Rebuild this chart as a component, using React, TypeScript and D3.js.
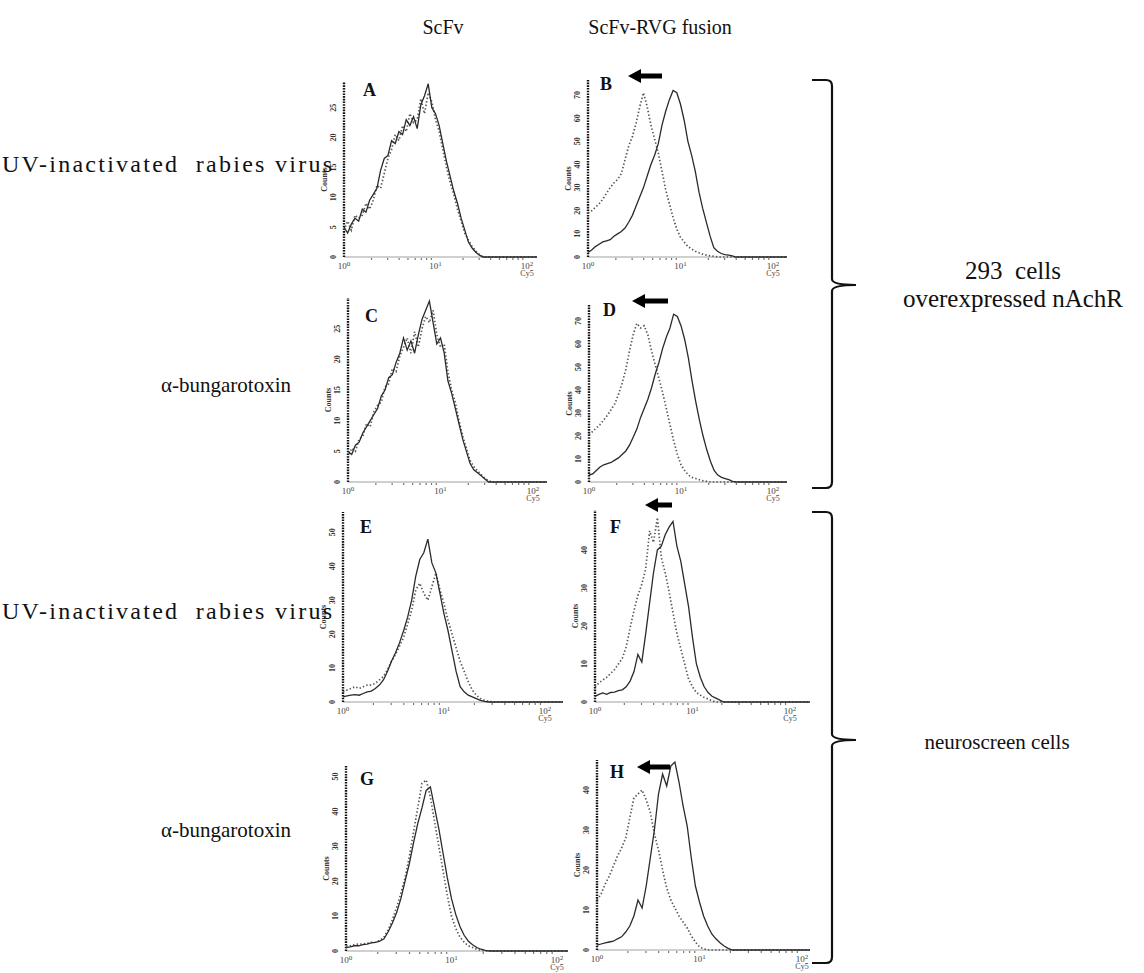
import React, { useRef, useEffect } from "react";
import * as d3 from "d3";

// log10 of the Cy5 channel, shared by every histogram
const LOG_X = [0, 0.04, 0.08, 0.12, 0.16, 0.2, 0.24, 0.28, 0.32, 0.36, 0.4, 0.44, 0.48, 0.52, 0.56, 0.6, 0.64, 0.68, 0.72, 0.76, 0.8, 0.84, 0.88, 0.92, 0.96, 1.0, 1.04, 1.08, 1.12, 1.16, 1.2, 1.24, 1.28, 1.32, 1.36, 1.4, 1.44, 1.48, 1.52, 1.56, 1.6];

const A_SOLID = [5, 4, 5.5, 6.5, 6, 8, 7.5, 9.5, 10.5, 11.5, 14.5, 16.5, 17, 19.5, 19, 21, 20.5, 23, 22, 23.5, 21.5, 25.5, 27, 29, 25, 24, 22, 19, 16, 13.5, 11, 9, 6.5, 4.5, 2.5, 1.5, 0.8, 0.3, 0, 0, 0];
const A_DOTTED = [4.5, 6, 4.5, 7, 6.5, 7, 9, 8, 9.5, 12, 11.5, 14, 16.5, 18, 20.5, 19.5, 22, 21, 24, 22.5, 23, 26.5, 24, 27.5, 26, 23, 21, 18, 15, 12.5, 10.5, 8, 6, 4, 2.8, 1.8, 1, 0.4, 0, 0, 0];
const B_SOLID = [2, 3, 4.5, 5.5, 6.5, 7, 7.5, 9, 10, 11, 12.5, 15, 18, 22, 26, 30, 35, 40, 44, 49, 57, 63, 68, 72, 71, 66, 59, 50, 44, 37, 28, 21, 15, 9, 4, 2.5, 1.5, 1, 0.8, 0.5, 0];
const B_DOTTED = [19, 20, 21.5, 23, 25, 27.5, 30, 32, 33.5, 36, 42, 48, 52, 58, 65, 71, 65, 57, 51, 45, 37, 29, 23, 17, 12, 8.5, 6.5, 4.5, 3.5, 2.5, 1.8, 1.2, 0.8, 0.5, 0.3, 0, 0, 0, 0, 0, 0];
const C_SOLID = [5, 4.5, 6, 6.5, 8, 9, 10, 11, 12, 14, 15, 17, 17.5, 19.5, 21, 23.5, 21.5, 23, 21, 24, 26.5, 28, 29.5, 26, 22.5, 23.5, 21, 16.5, 14.5, 12, 9.5, 7, 5, 3, 2, 1.5, 1, 0.5, 0, 0, 0];
const C_DOTTED = [4, 5.5, 5, 7, 7.5, 9.5, 9, 11.5, 12.5, 13, 15.5, 16, 18.5, 18, 20.5, 22, 23.5, 21, 24.5, 22, 25, 27, 26, 28, 24, 22, 22.5, 18, 15, 13, 10, 7.5, 5.5, 3.5, 2.5, 1.8, 1.2, 0.6, 0.2, 0, 0];
const D_SOLID = [3, 3.5, 5, 6.5, 7.5, 8, 8.5, 9.5, 10.5, 12, 13.5, 16, 19.5, 23, 28, 32, 36, 41, 47, 52, 58, 63, 67, 73, 72, 68, 62, 54, 44, 35, 27, 20, 14, 9, 5, 3, 2, 1.5, 1, 0.3, 0];
const D_DOTTED = [20.5, 22, 23.5, 25, 27, 29, 31.5, 34, 38, 43, 49, 57, 64, 69, 67, 68, 64, 57, 51, 45, 39, 32, 25, 18, 12, 7.5, 5, 3, 2, 1.5, 1, 0.5, 0.3, 0, 0, 0, 0, 0, 0, 0, 0];
const E_SOLID = [1.5, 1.8, 2, 2.2, 2, 2.5, 3, 3.2, 4, 5, 6.5, 9, 12, 14.5, 17.5, 21, 25, 30, 37, 42, 44, 48, 41, 38, 32, 26, 21, 15, 9, 4.5, 3, 2, 1.5, 1, 0.5, 0.2, 0, 0, 0, 0, 0];
const E_DOTTED = [3, 3.5, 4, 4.5, 4, 4.5, 5, 5, 5.5, 6.5, 7.5, 9.5, 12, 14, 16.5, 19, 23, 27, 33, 35, 32, 30, 34, 38, 33, 29, 24, 20, 16, 12, 9, 6, 3.5, 2, 1, 0.5, 0.2, 0, 0, 0, 0];
const F_SOLID = [1.5, 2, 2.4, 2, 2.5, 2.6, 3, 3.2, 4, 5.5, 8, 12.5, 10.5, 18, 26, 34, 40, 41, 44, 46, 47.5, 41, 37, 31, 25, 17, 10, 6.5, 4, 2.5, 1.5, 1, 0.5, 0, 0, 0, 0, 0, 0, 0, 0];
const F_DOTTED = [4, 5, 5.8, 6.5, 7.5, 8.5, 10, 11.5, 14.5, 19.5, 24, 28, 31, 35, 45, 42, 48.5, 38, 34, 29, 23.5, 18, 14, 10, 6, 4, 2.5, 1.8, 1.2, 0.8, 0.3, 0, 0, 0, 0, 0, 0, 0, 0, 0, 0];
const G_SOLID = [1, 1.2, 1.5, 1.5, 1.8, 2, 2.3, 2.5, 2.8, 3.5, 5.5, 8, 11, 15, 20, 25, 31, 36.5, 41, 46, 47, 41, 35, 28, 21, 15, 10.5, 7, 4.5, 2.8, 1.8, 1, 0.5, 0.2, 0, 0, 0, 0, 0, 0, 0];
const G_DOTTED = [1.5, 1.5, 1.8, 2, 2, 2.2, 2.5, 2.5, 3, 4, 6, 9, 12.5, 16.5, 21, 27, 34, 41, 48, 49, 44, 37, 30, 23, 16, 10, 6.5, 4, 2.5, 1.5, 1, 0.5, 0.2, 0, 0, 0, 0, 0, 0, 0, 0];
const H_SOLID = [1.2, 1.5, 1.8, 2, 2.2, 2.8, 3.3, 4.5, 6, 8.5, 12.5, 10.5, 16, 23, 30, 39, 44, 41, 46, 47, 42, 36, 31, 23, 16, 12, 8.5, 6, 4, 2.8, 1.8, 1, 0.4, 0, 0, 0, 0, 0, 0, 0, 0];
const H_DOTTED = [12.5, 14, 16.5, 18.5, 21, 23.5, 25.5, 28, 33, 38, 39, 40, 37.5, 34.5, 29, 25, 20, 15.5, 12.5, 10.5, 8.5, 7, 5.5, 3.5, 2, 0.8, 0.3, 0, 0, 0, 0, 0, 0, 0, 0, 0, 0, 0, 0, 0, 0];

const TICKS_30 = [0, 5, 10, 15, 20, 25];
const TICKS_70 = [0, 10, 20, 30, 40, 50, 60, 70];
const TICKS_50 = [0, 10, 20, 30, 40, 50];
const TICKS_40 = [0, 10, 20, 30, 40];

const COLUMN_TITLES = ["ScFv", "ScFv-RVG fusion"];
const ROW_LABELS = ["UV-inactivated  rabies virus", "α-bungarotoxin", "UV-inactivated  rabies virus", "α-bungarotoxin"];
const GROUP_LABELS = [["293  cells", "overexpressed nAchR"], ["neuroscreen cells"]];

// layout of each small histogram (pixels)
const PANELS = [
  { id: "A", solid: A_SOLID, dotted: A_DOTTED, ticks: TICKS_30, yMax: 29.3, x0: 344, x100: 527, xEnd: 537, yBase: 257, yTop: 82, lx: 363, ly: 96, arrow: null },
  { id: "B", solid: B_SOLID, dotted: B_DOTTED, ticks: TICKS_70, yMax: 76.5, x0: 588, x100: 773, xEnd: 787, yBase: 257, yTop: 80, lx: 600, ly: 90, arrow: [628, 662, 76] },
  { id: "C", solid: C_SOLID, dotted: C_DOTTED, ticks: TICKS_30, yMax: 30, x0: 348, x100: 533, xEnd: 547, yBase: 482, yTop: 298, lx: 365, ly: 322, arrow: null },
  { id: "D", solid: D_SOLID, dotted: D_DOTTED, ticks: TICKS_70, yMax: 77, x0: 589, x100: 773, xEnd: 787, yBase: 482, yTop: 305, lx: 603, ly: 316, arrow: [632, 668, 301] },
  { id: "E", solid: E_SOLID, dotted: E_DOTTED, ticks: TICKS_50, yMax: 56, x0: 343, x100: 545, xEnd: 563, yBase: 702, yTop: 512, lx: 360, ly: 533, arrow: null },
  { id: "F", solid: F_SOLID, dotted: F_DOTTED, ticks: TICKS_40, yMax: 50.5, x0: 595, x100: 790, xEnd: 810, yBase: 702, yTop: 510, lx: 610, ly: 533, arrow: [645, 672, 505] },
  { id: "G", solid: G_SOLID, dotted: G_DOTTED, ticks: TICKS_50, yMax: 53, x0: 346, x100: 557, xEnd: 568, yBase: 951, yTop: 766, lx: 360, ly: 785, arrow: null },
  { id: "H", solid: H_SOLID, dotted: H_DOTTED, ticks: TICKS_40, yMax: 47.5, x0: 597, x100: 802, xEnd: 810, yBase: 950, yTop: 760, lx: 610, ly: 778, arrow: [637, 670, 767] },
];

const SERIF = "'Liberation Serif', 'Times New Roman', serif";

const App = () => {
  const svgRef = useRef(null);

  useEffect(() => {
    const svg = d3.select(svgRef.current);
    svg.selectAll("*").remove();

    PANELS.forEach((p) => {
      const g = svg.append("g").attr("class", "panel" + p.id);
      const x = d3.scaleLog().domain([1, 100]).range([p.x0, p.x100]);
      const y = d3.scaleLinear().domain([0, p.yMax]).range([p.yBase, p.yTop]);
      const lastLog = Math.log10(x.invert(p.xEnd));

      // x axis: thin grey line, dotted minor ticks
      g.append("line")
        .attr("x1", p.x0).attr("x2", p.xEnd)
        .attr("y1", p.yBase).attr("y2", p.yBase)
        .attr("stroke", "#a0a0a0").attr("stroke-width", 1);
      const minors = [];
      [1, 10].forEach((dec) => d3.range(2, 10).forEach((k) => minors.push(k * dec)));
      g.selectAll(".minor")
        .data(minors)
        .join("line")
        .attr("x1", (d) => x(d)).attr("x2", (d) => x(d))
        .attr("y1", p.yBase + 1).attr("y2", p.yBase + 3)
        .attr("stroke", "#777").attr("stroke-width", 1.2);

      [0, 1, 2].forEach((e) => {
        const t = g.append("text")
          .attr("x", x(10 ** e)).attr("y", p.yBase + 12)
          .attr("text-anchor", "middle")
          .style("font-family", SERIF).style("font-size", "9px").style("fill", "#444");
        t.append("tspan").text("10");
        t.append("tspan").attr("dy", -3).style("font-size", "7px").text(String(e));
      });
      g.append("text")
        .attr("x", x(100)).attr("y", p.yBase + 19)
        .attr("text-anchor", "middle")
        .style("font-family", SERIF).style("font-size", "8px").style("fill", "#444")
        .text("Cy5");

      // y axis: heavy dotted line
      g.append("line")
        .attr("x1", p.x0).attr("x2", p.x0)
        .attr("y1", p.yBase).attr("y2", p.yTop)
        .attr("stroke", "#111").attr("stroke-width", 2.4)
        .attr("stroke-dasharray", "1.6,1.1");
      g.selectAll(".ytick")
        .data(p.ticks)
        .join("text")
        .attr("transform", (d) => `translate(${p.x0 - 8}, ${y(d)}) rotate(-90)`)
        .attr("text-anchor", "middle")
        .style("font-family", SERIF).style("font-size", "8px").style("font-weight", "bold").style("fill", "#333")
        .text((d) => d);
      g.append("text")
        .attr("transform", `translate(${p.x0 - 17}, ${(p.yBase + p.yTop) / 2 + 10}) rotate(-90)`)
        .attr("text-anchor", "middle")
        .style("font-family", SERIF).style("font-size", "8px").style("font-weight", "bold").style("fill", "#333")
        .text("Counts");

      const line = d3.line()
        .x((d) => x(10 ** d[0]))
        .y((d) => y(d[1]))
        .curve(d3.curveLinear);

      const dottedPts = LOG_X.map((v, i) => [v, p.dotted[i]]);
      dottedPts.push([lastLog, 0]);
      g.append("path")
        .attr("d", line(dottedPts))
        .attr("fill", "none")
        .attr("stroke", "#555").attr("stroke-width", 1.7)
        .attr("stroke-dasharray", "1.4,2.2");

      const solidPts = LOG_X.map((v, i) => [v, p.solid[i]]);
      solidPts.push([lastLog, 0]);
      g.append("path")
        .attr("d", line(solidPts))
        .attr("fill", "none")
        .attr("stroke", "#2a2a2a").attr("stroke-width", 1.3);

      g.append("text")
        .attr("x", p.lx).attr("y", p.ly)
        .style("font-family", SERIF).style("font-size", "18px").style("font-weight", "bold").style("fill", "#111")
        .text(p.id);

      if (p.arrow) {
        const [ax1, ax2, ay] = p.arrow;
        g.append("path")
          .attr("d", `M${ax1},${ay} L${ax1 + 13},${ay - 7} L${ax1 + 13},${ay - 2.5} L${ax2},${ay - 2.5} L${ax2},${ay + 2.5} L${ax1 + 13},${ay + 2.5} L${ax1 + 13},${ay + 7} Z`)
          .attr("fill", "#000");
      }
    });

    // column titles
    svg.selectAll(".coltitle")
      .data(COLUMN_TITLES)
      .join("text")
      .attr("x", (d, i) => [443, 660][i])
      .attr("y", 34)
      .attr("text-anchor", "middle")
      .style("font-family", SERIF).style("font-size", "20px").style("fill", "#111")
      .text((d) => d);

    // row labels
    svg.selectAll(".rowlabel")
      .data(ROW_LABELS)
      .join("text")
      .attr("x", (d, i) => (i % 2 === 0 ? 2 : 226))
      .attr("y", (d, i) => [172, 392, 619, 837][i])
      .attr("text-anchor", (d, i) => (i % 2 === 0 ? "start" : "middle"))
      .attr("textLength", (d, i) => (i % 2 === 0 ? 330 : null))
      .attr("lengthAdjust", "spacing")
      .style("white-space", "pre")
      .style("font-family", SERIF)
      .style("font-size", (d, i) => (i % 2 === 0 ? "24px" : "21px"))
      .style("fill", "#111")
      .text((d) => d);

    // braces on the right
    const braces = [
      { top: 80, mid: 285, bottom: 488 },
      { top: 512, mid: 740, bottom: 963 },
    ];
    braces.forEach((b) => {
      const bx = 832;
      svg.append("path")
        .attr("d", `M812,${b.top} L826,${b.top} Q${bx},${b.top} ${bx},${b.top + 6} L${bx},${b.mid - 6} Q${bx},${b.mid} ${bx + 24},${b.mid} Q${bx},${b.mid} ${bx},${b.mid + 6} L${bx},${b.bottom - 6} Q${bx},${b.bottom} 826,${b.bottom} L812,${b.bottom}`)
        .attr("fill", "none").attr("stroke", "#111").attr("stroke-width", 2.2);
    });

    GROUP_LABELS[0].forEach((t, i) => {
      svg.append("text")
        .attr("x", 1013).attr("y", 279 + i * 28)
        .attr("text-anchor", "middle")
        .style("white-space", "pre")
        .style("font-family", SERIF).style("font-size", "25px").style("fill", "#111")
        .text(t);
    });
    svg.append("text")
      .attr("x", 997).attr("y", 749)
      .attr("text-anchor", "middle")
      .style("font-family", SERIF).style("font-size", "21px").style("fill", "#111")
      .text(GROUP_LABELS[1][0]);
  }, []);

  return (
    <svg
      ref={svgRef}
      width={1144}
      height={973}
      style={{ position: "absolute", left: 0, top: 0, background: "#fff" }}
    ></svg>
  );
};

export default App;
